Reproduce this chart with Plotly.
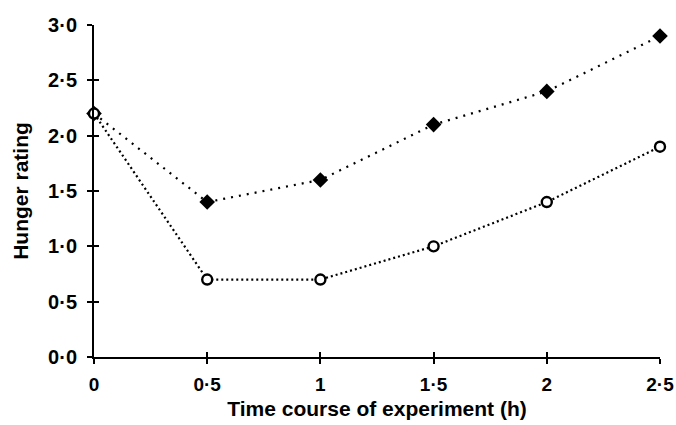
import plotly.graph_objects as go

time_h = [0, 0.5, 1, 1.5, 2, 2.5]
filled_series = [2.2, 1.4, 1.6, 2.1, 2.4, 2.9]
open_series = [2.2, 0.7, 0.7, 1.0, 1.4, 1.9]

x_tickvals = [0, 0.5, 1, 1.5, 2, 2.5]
x_ticktext = ["0", "0·5", "1", "1·5", "2", "2·5"]
y_tickvals = [0, 0.5, 1.0, 1.5, 2.0, 2.5, 3.0]
y_ticktext = ["0·0", "0·5", "1·0", "1·5", "2·0", "2·5", "3·0"]

FAM = "Liberation Sans, Arial, sans-serif"
ytickfont = dict(family=FAM, size=20, color="black", weight="bold")
xtickfont = dict(family=FAM, size=19, color="black", weight="bold")
titlefont = dict(family=FAM, size=21, color="black", weight="bold")

fig = go.Figure()
fig.add_trace(go.Scatter(
    x=time_h, y=filled_series, mode="lines+markers",
    line=dict(color="black", width=2.2, dash="2px,6px"),
    marker=dict(symbol="diamond", size=12, color="black"),
    cliponaxis=False, showlegend=False))
fig.add_trace(go.Scatter(
    x=time_h, y=open_series, mode="lines+markers",
    line=dict(color="black", width=2.2, dash="2px,3px"),
    marker=dict(symbol="circle", size=10, color="white", line=dict(color="black", width=2.4)),
    cliponaxis=False, showlegend=False))

fig.update_layout(
    width=676, height=425,
    margin=dict(l=94, r=16, t=25, b=68),
    paper_bgcolor="white", plot_bgcolor="white",
    font=dict(family=FAM, size=20, color="black"),
    xaxis=dict(range=[0, 2.5], tickvals=x_tickvals, ticktext=x_ticktext, automargin=False,
               showgrid=False, zeroline=False, showline=True, linecolor="black", linewidth=2,
               ticks="outside", ticklen=5, tickwidth=2, tickcolor="black",
               tickfont=xtickfont, ticklabelstandoff=4,
               title=dict(text="Time course of experiment (h)", standoff=8, font=titlefont)),
    yaxis=dict(range=[0, 3.0], tickvals=y_tickvals, ticktext=y_ticktext, automargin=False,
               showgrid=False, zeroline=False, showline=True, linecolor="black", linewidth=2,
               ticks="outside", ticklen=5, tickwidth=2, tickcolor="black",
               tickfont=ytickfont, ticklabelstandoff=6,
               title=dict(text="Hunger rating", standoff=14, font=titlefont)),
    xaxis2=dict(range=[0, 2.5], overlaying="x", side="bottom", anchor="y", automargin=False,
                tickvals=x_tickvals, showticklabels=False, showgrid=False, zeroline=False,
                showline=False, ticks="inside", ticklen=5, tickwidth=2, tickcolor="black"),
    yaxis2=dict(range=[0, 3.0], overlaying="y", side="left", anchor="x", automargin=False,
                tickvals=y_tickvals, showticklabels=False, showgrid=False, zeroline=False,
                showline=False, ticks="inside", ticklen=5, tickwidth=2, tickcolor="black"),
)
# invisible trace to activate the overlay axes carrying the inner half of the tick marks
fig.add_trace(go.Scatter(x=[None], y=[None], xaxis="x2", yaxis="y2", showlegend=False, hoverinfo="skip"))
# remove the default 8px page margin so the figure fills the window exactly; hide the modebar
fig.write_html("out.html", config={"displayModeBar": False},
               post_script="document.body.style.margin='0';document.body.style.overflow='hidden';")
